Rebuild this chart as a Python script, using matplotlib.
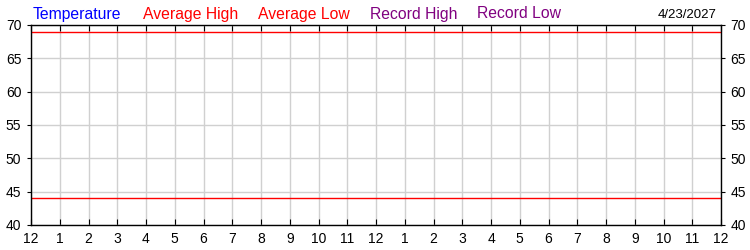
import matplotlib
matplotlib.use("Agg")
import matplotlib.pyplot as plt

plt.rcParams['font.family'] = ['Liberation Sans', 'DejaVu Sans']

hour_labels = ['12', '1', '2', '3', '4', '5', '6', '7', '8', '9', '10', '11',
               '12', '1', '2', '3', '4', '5', '6', '7', '8', '9', '10', '11', '12']
y_ticks = [40, 45, 50, 55, 60, 65, 70]
avg_high = 69
avg_low = 44
legend_items = ['Temperature', 'Average High', 'Average Low', 'Record High', 'Record Low']
legend_colors = ['#0000ff', '#ff0000', '#ff0000', '#800080', '#800080']
legend_x = [33, 143, 258, 370, 477]
date_text = '4/23/2027'

fig = plt.figure(figsize=(7.5, 2.5), dpi=100)
W, H = 750, 250
ax = fig.add_axes([31 / W, 1 - 225 / H, (721 - 31) / W, (225 - 25) / H])

x = list(range(len(hour_labels)))
ax.set_xlim(0, len(hour_labels) - 1)
ax.set_ylim(40, 70)
ax.set_xticks(x)
ax.set_xticklabels(hour_labels, fontsize=10)
ax.set_yticks(y_ticks)
ax.set_yticklabels([str(v) for v in y_ticks], fontsize=10)
ax.grid(True, color='#d0d0d0', linewidth=1)
ax.set_axisbelow(True)
ax.tick_params(axis='x', direction='in', length=4, top=True, bottom=True, pad=5, color='black')
ax.tick_params(axis='y', direction='out', length=3, left=True, right=True,
               labelleft=True, labelright=True, pad=4)
for s in ax.spines.values():
    s.set_color('black')
    s.set_linewidth(1)

ax.axhline(avg_high, color='#ff0000', linewidth=1)
ax.axhline(avg_low, color='#ff0000', linewidth=1)

for name, col, px in zip(legend_items, legend_colors, legend_x):
    fig.text(px / W, 1 - 18.5 / H, name, color=col, fontsize=11.3, va='baseline', ha='left')
fig.text(717 / W, 1 - 18.5 / H, date_text, color='black', fontsize=9.5, va='baseline', ha='right')

fig.savefig('out.png', dpi=100, facecolor='white')
